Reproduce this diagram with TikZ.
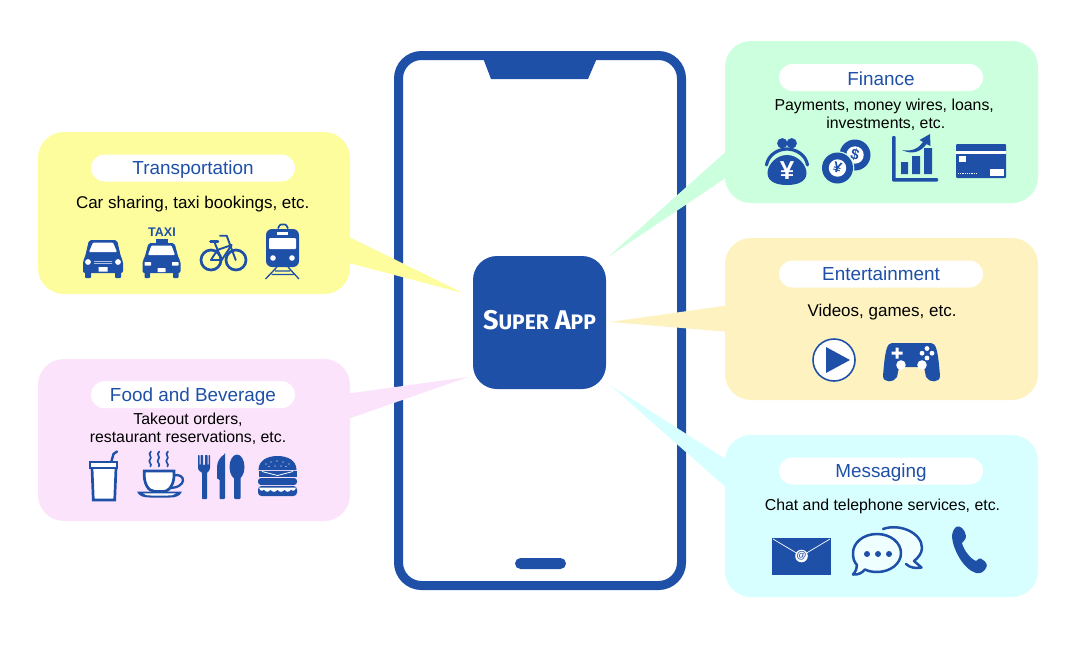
\documentclass[tikz,border=0pt]{standalone}
\usepackage{fontspec}
\setmainfont{Liberation Sans}
\newfontfamily\appfont{Fira Sans}
\definecolor{appblue}{HTML}{1F50A8}
\definecolor{cyel}{HTML}{FDFD9D}
\definecolor{cpink}{HTML}{FCE3FC}
\definecolor{cgreen}{HTML}{CCFFDD}
\definecolor{ccream}{HTML}{FEF3C0}
\definecolor{ccyan}{HTML}{D8FFFF}
\tikzset{
 titlepill/.style={fill=white,draw=none,rounded corners=13.5pt,minimum width=204pt,minimum height=27pt,inner sep=0pt,text=appblue,text height=13pt,text depth=.4pt,font=\fontsize{18.9}{20}\selectfont},
 capbig/.style={inner sep=0pt,anchor=base,text=black,font=\fontsize{17}{18}\selectfont},
 capsmall/.style={inner sep=0pt,anchor=base,text=black,font=\fontsize{15.85}{18}\selectfont},
}
\begin{document}
\begin{tikzpicture}[x=1pt,y=-1pt]
\useasboundingbox (0,0) rectangle (1080,646);
\fill[white] (0,0) rectangle (1080,646);
% phone
\draw[appblue,line width=9pt,fill=white,rounded corners=23pt] (398.5,55.5) rectangle (681.5,585.5);
\fill[appblue] (483,58) -- (597,58) -- (588,79) -- (491,79) -- cycle;
\fill[appblue,rounded corners=5.5pt] (515,558) rectangle (566,569);
% app
\node[fill=appblue,draw=none,rounded corners=24pt,minimum width=133pt,minimum height=133pt,inner sep=0pt,text=white,text height=13pt,text depth=0pt] (app) at (539.5,322.5)
 {\appfont\bfseries\fontsize{27}{28}\selectfont S\fontsize{21}{28}\selectfont UPER\hspace{6pt}\fontsize{27}{28}\selectfont A\fontsize{21}{28}\selectfont PP};
% tails
\coordinate (tipT) at (463,293);
\coordinate (tipF) at (468,377);
\coordinate (tipN) at (608,257);
\coordinate (tipE) at (610,322);
\coordinate (tipM) at (610,385);
\fill[cyel] (345,235) -- (tipT) -- (345,262) -- cycle;
\fill[cpink] (345,394) -- (tipF) -- (345,420) -- cycle;
\fill[cgreen] (730,148) -- (tipN) -- (730,175) -- cycle;
\fill[ccream] (730,305) -- (tipE) -- (730,332) -- cycle;
\fill[ccyan] (730,462) -- (tipM) -- (730,491) -- cycle;
% boxes
\fill[cyel,rounded corners=26pt] (38,132) rectangle (350,294);
\fill[cpink,rounded corners=26pt] (38,359) rectangle (350,521);
\fill[cgreen,rounded corners=26pt] (725,41) rectangle (1038,203);
\fill[ccream,rounded corners=26pt] (725,238) rectangle (1038,400);
\fill[ccyan,rounded corners=26pt] (725,435) rectangle (1038,597);
% titles
\node[titlepill] (t1) at (193,168) {Transportation};
\node[titlepill] (t2) at (193,394.7) {Food and Beverage};
\node[titlepill,text height=15.4pt] (t3) at (881,77.5) {Finance};
\node[titlepill] (t4) at (881,274) {Entertainment};
\node[titlepill] (t5) at (881,471) {Messaging};
% captions
\node[capbig] (c1) at (192.7,208.3) {Car sharing, taxi bookings, etc.};
\node[capsmall] (c2a) at (188,424.3) {Takeout orders,};
\node[capsmall] (c2b) at (188,442.3) {restaurant reservations, etc.};
\node[capsmall] (c3a) at (884.2,110.7) {Payments, money wires, loans,};
\node[capsmall] (c3b) at (885.8,128.5) {investments, etc.};
\node[capbig] (c4) at (882,316.7) {Videos, games, etc.};
\node[capsmall] (c5) at (882.5,510.3) {Chat and telephone services, etc.};
% car
\begin{scope}[shift={(103,278)}]
\fill[appblue,rounded corners=2pt] (-20,-5) -- (-20,-17) -- (-18,-21) -- (-14,-38) -- (14,-38) -- (18,-21) -- (20,-17) -- (20,-5) -- cycle;
\fill[appblue,rounded corners=1pt] (-18,-7) rectangle (-12,0) (12,-7) rectangle (18,0);
\fill[white,rounded corners=1pt] (-10,-35.5) -- (10,-35.5) -- (14,-26) -- (-14,-26) -- cycle;
\fill[white] (-15,-16) circle (2.9) (15,-16) circle (2.9);
\fill[white] (-9,-17) rectangle (9,-16.3) (-9,-15) rectangle (9,-14.3) (-4.5,-11) rectangle (4.5,-6.5);
\end{scope}
% taxi
\node[inner sep=0pt,text=appblue,font=\bfseries\fontsize{12.5}{13}\selectfont] (taxi) at (162,232) {TAXI};
\begin{scope}[shift={(161.5,278)}]
\fill[appblue] (-6,-39.5) rectangle (6,-34);
\fill[appblue,rounded corners=2pt] (-19,-5) -- (-19,-17) -- (-17,-20) -- (-13,-35) -- (13,-35) -- (17,-20) -- (19,-17) -- (19,-5) -- cycle;
\fill[appblue,rounded corners=1pt] (-17,-7) rectangle (-11.5,0) (11.5,-7) rectangle (17,0);
\fill[white,rounded corners=1pt] (-10,-32.5) -- (10,-32.5) -- (13.5,-23) -- (-13.5,-23) -- cycle;
\fill[white,rounded corners=.5pt] (-17,-16) rectangle (-10.5,-12.5) (10.5,-16) rectangle (17,-12.5) (-4,-10) rectangle (4,-6);
\end{scope}
% bicycle
\begin{scope}[appblue,line cap=round,line join=round]
\draw[line width=2.7pt] (211,260) circle (10) (236,260) circle (10);
\draw[line width=1.9pt] (214.3,241.7) -- (221.7,260) -- (211,260) -- (217.3,250) -- (231.7,245) -- (221.7,260);
\draw[line width=1.9pt] (235.7,260) -- (226.7,235.7) -- (220,235.7);
\draw[line width=2.6pt] (210.5,241.5) -- (218,241.5);
\end{scope}
% train
\draw[appblue,line width=1.6pt,rounded corners=1pt] (278,228.5) -- (280,224.5) -- (286,224.5) -- (288,228.5);
\fill[appblue,rounded corners=6pt] (266,229) rectangle (299,267);
\fill[white,rounded corners=1pt] (269,238) rectangle (296,249);
\fill[white] (277,232) rectangle (288,235);
\fill[white] (273,258) circle (2.8) (292,258) circle (2.8);
\draw[appblue,line width=1.3pt] (277,267) -- (265.5,279) (288,267) -- (299,279) (275,271) -- (290,271) (271.5,274.5) -- (293.5,274.5);
% cup
\begin{scope}[appblue]
\fill[white] (92,468) -- (93,500) -- (115.5,500) -- (117,468) -- cycle;
\draw[line width=2.7pt] (92,468) -- (93.3,500) -- (114.7,500) -- (116,468);
\draw[line width=2.3pt,fill=white] (90.2,462.3) rectangle (117.3,468);
\draw[line width=2.4pt,line cap=round] (111.5,461) -- (113.5,454) -- (117,451.5);
\end{scope}
% coffee
\begin{scope}[appblue,line width=1.7pt,line cap=round]
\foreach \x in {150,158.3,167}{
 \draw (\x+1,451.5) .. controls (\x-3,454.5) and (\x+3,457) .. (\x,459.5) .. controls (\x-2.5,461.5) and (\x+2.5,464) .. (\x+.5,466.5);
}
\draw[line width=2.3pt] (173,475.5) .. controls (186,472) and (188,488) .. (169,488);
\draw[line width=2.7pt,fill=white] (144.3,471) -- (174,471) .. controls (175,483) and (170,491.5) .. (163,491.5) -- (155,491.5) .. controls (148,491.5) and (143.3,483) .. (144.3,471) -- cycle;
\fill (137,491.5) -- (182,491.5) .. controls (180,496.5) and (175,497.5) .. (170,497.5) -- (150,497.5) .. controls (144,497.5) and (139,496.5) .. (137,491.5) -- cycle;
\fill[white] (143,493.3) -- (176,493.3) .. controls (174,495) and (172,495.5) .. (168,495.5) -- (151,495.5) .. controls (147,495.5) and (145,495) .. (143,493.3) -- cycle;
\end{scope}
% fork knife spoon
\fill[appblue,rounded corners=.6pt] (198,455) -- (199.5,455) -- (199.5,465) -- (200.5,465) -- (200.5,455) -- (203,455) -- (203,465) -- (205,465) -- (205,455) -- (207.5,455) -- (207.5,465) -- (208.5,465) -- (208.5,455) -- (210,455) -- (210,467) .. controls (210,471) and (207.5,472) .. (207,473) -- (207,499) -- (202,499) -- (202,473) .. controls (201.5,472) and (198,471) .. (198,467) -- cycle;
\fill[appblue,rounded corners=1pt] (225,454) -- (225,499) -- (219.5,499) -- (219.5,479) -- (217,479) -- (217,468) .. controls (217,462) and (220,457) .. (225,454) -- cycle;
\fill[appblue] (237,467) ellipse (7.5 and 12.5);
\fill[appblue,rounded corners=1pt] (234.2,475) rectangle (240.5,499);
% burger
\fill[appblue] (258.5,470) .. controls (258.5,460) and (268,456) .. (277.5,456) .. controls (287,456) and (296.5,460) .. (296.5,470) -- cycle;
\foreach \p in {(266,464),(271,462),(277,461),(283,462),(289,464),(269,466.5),(275,466),(281,466),(286,466.5)}
 \fill[white] \p circle (.7);
\fill[appblue] (258.5,471) -- (296.5,471) -- (296.5,477) -- (258.5,477) -- cycle;
\draw[white,line width=.8pt] (262,471.5) -- (277.5,475.5) -- (293,471.5);
\fill[appblue,rounded corners=3pt] (258,478) rectangle (297,485);
\fill[appblue,rounded corners=3.5pt] (258,486) -- (297,486) -- (297,496) -- (258,496) -- cycle;
\fill[white] (259,487.5) -- (296,487.5) .. controls (295,491) and (293,491.5) .. (291,489.5) .. controls (289,492.5) and (286,492.5) .. (284.5,489.5) .. controls (283,492.5) and (279,492.5) .. (277.5,489.5) .. controls (276,492.5) and (272,492.5) .. (270.5,489.5) .. controls (269,492.5) and (266,492.5) .. (264,489.5) .. controls (262,491.5) and (260,491) .. (259,487.5) -- cycle;
% purse
\fill[appblue] (787,155) .. controls (798,155) and (806.5,165) .. (806.5,173) .. controls (806.5,182) and (797,185) .. (787,185) .. controls (777,185) and (767.5,182) .. (767.5,173) .. controls (767.5,165) and (776,155) .. (787,155) -- cycle;
\draw[cgreen,line width=5pt] (766.5,165) .. controls (768,155) and (778,149) .. (787,149) .. controls (796,149) and (806,155) .. (807.5,165);
\draw[appblue,line width=3.2pt,line cap=round] (766.5,165) .. controls (768,155) and (778,149) .. (787,149) .. controls (796,149) and (806,155) .. (807.5,165);
\fill[appblue] (782.3,143.3) circle (5.2) (791.7,143.3) circle (5.2);
\node[inner sep=0pt,text=white,font=\bfseries\fontsize{26}{27}\selectfont] (yen1) at (787,171) {¥};
% coins
\fill[appblue] (855,155) circle (15.5);
\fill[white] (855,155) circle (8.7);
\fill[cgreen] (837.5,168) circle (16.8);
\fill[appblue] (837.5,168) circle (15.5);
\fill[white] (837.5,168) circle (8.7);
\node[inner sep=0pt,text=appblue,font=\bfseries\fontsize{15}{16}\selectfont,rotate=-15] (yen2) at (837.5,168) {¥};
\node[inner sep=0pt,text=appblue,font=\bfseries\fontsize{15}{16}\selectfont,rotate=-15] (usd) at (855,155) {\$};
% chart
\fill[appblue,rounded corners=1pt] (892,136) rectangle (895.5,181) (892,178) rectangle (938,181.5);
\fill[appblue] (901,162) rectangle (908,174) (912,156) rectangle (920,174) (924,148) rectangle (932,174);
\fill[appblue] (902,150) .. controls (912,152) and (919,148) .. (923,142) -- (919.5,140) -- (930,134) -- (930.5,146) -- (926.5,144) .. controls (921,152) and (912,155) .. (902,150) -- cycle;
% card
\fill[appblue,rounded corners=1pt] (956,144) rectangle (1006,178);
\fill[white] (956,151) rectangle (1006,153.5);
\fill[white] (959,156) rectangle (966,162);
\fill[white] (990,169) rectangle (1004,176);
\draw[white,line width=1.2pt,dash pattern=on 1pt off .8pt] (958,173.5) -- (977,173.5);
% play
\draw[appblue,line width=1.6pt,fill=white] (834,360) circle (21);
\fill[appblue] (826,347) -- (850,360) -- (826,373) -- cycle;
% gamepad
\fill[appblue] (892,343) -- (931,343) .. controls (936,343) and (938,350) .. (940,376) .. controls (940,383) and (929,383) .. (926,377) -- (924,367) -- (899,367) -- (897,377) .. controls (894,383) and (883,383) .. (883,376) .. controls (885,350) and (887,343) .. (892,343) -- cycle;
\fill[white] (895.5,347.5) rectangle (898.5,358.5) (891.5,351.5) rectangle (902.5,354.5);
\fill[white] (927,348.5) circle (2.4) (927,358) circle (2.4) (922,353.2) circle (2.4) (932,353.2) circle (2.4);
\fill[white] (901,365) circle (4.8) (922,365) circle (4.8);
% envelope
\fill[appblue] (772,538) rectangle (831,574.5);
\draw[white,line width=.7pt] (773,539) -- (801.5,556) -- (830,539);
\fill[white] (801.5,556) circle (6.3);
\node[inner sep=0pt,text=appblue,font=\bfseries\fontsize{10}{11}\selectfont] (at) at (801.5,555.7) {@};
% chat
\fill[white!60!ccyan] (883,529) .. controls (900,523) and (922,533) .. (922,548) .. controls (922,553) and (918,558) .. (914,561) -- (921,567.5) .. controls (916,568.5) and (910,568) .. (906,564) -- cycle;
\draw[appblue,line width=2.5pt,line join=round,line cap=round] (883,529) .. controls (900,523) and (922,533) .. (922,548) .. controls (922,553) and (918,558) .. (914,561) -- (921.5,567.5) .. controls (916,568.5) and (910,568) .. (906,564);
\draw[appblue,line width=2.5pt,fill=white!60!ccyan,line join=round] (877,534) .. controls (891,534) and (901,543) .. (901,553) .. controls (901,564) and (890,572) .. (877,572) .. controls (872,572) and (868,571) .. (865,569.5) .. controls (862,573) and (858,575) .. (853,574.5) .. controls (856,571) and (857,568) .. (857,565) .. controls (854,562) and (853,558) .. (853,553) .. controls (853,543) and (863,534) .. (877,534) -- cycle;
\fill[appblue] (867,554) circle (3) (878,554) circle (3) (889,554) circle (3);
% handset
\fill[appblue,line join=round] (957,526.5) .. controls (961,525.5) and (965,530) .. (966,536) .. controls (966,540) and (963,541) .. (962,543) .. controls (964,551) and (971,559) .. (976,561) .. controls (978,559) and (980,557) .. (983,560) .. controls (986,562) and (988,565) .. (986,568) .. controls (984,572) and (980,574) .. (976,573) .. controls (963,569) and (953,549) .. (952,537) .. controls (952,532) and (954,528) .. (957,526.5) -- cycle;
\end{tikzpicture}
\end{document}
